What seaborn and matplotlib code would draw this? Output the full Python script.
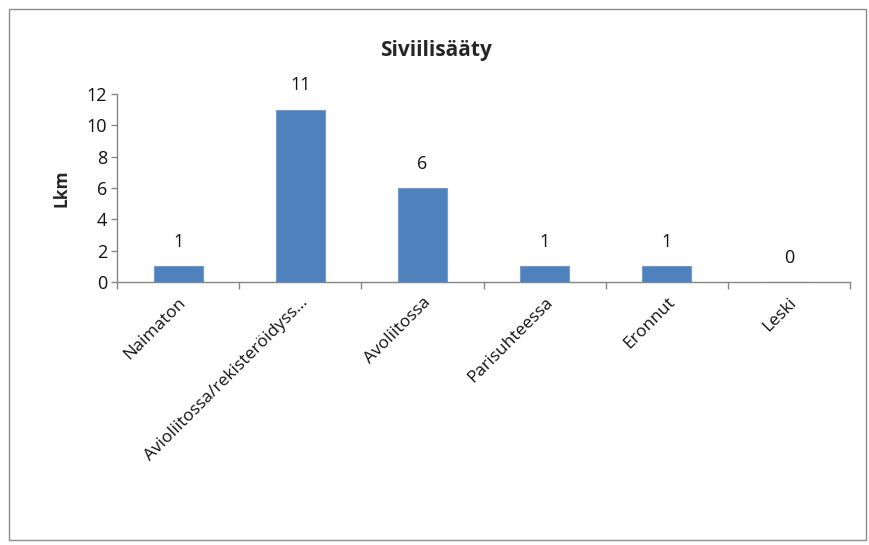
import matplotlib
matplotlib.use('Agg')
import matplotlib.pyplot as plt
import seaborn as sns
import pandas as pd
from matplotlib.patches import Rectangle

sns.set_theme(style='white')
plt.rcParams['font.family'] = ['Open Sans', 'DejaVu Sans']

categories = ['Naimaton', 'Avioliitossa/rekisteröidyss...', 'Avoliitossa',
              'Parisuhteessa', 'Eronnut', 'Leski']
counts = [1, 11, 6, 1, 1, 0]
yticks = [0, 2, 4, 6, 8, 10, 12]

df = pd.DataFrame({'tila': categories, 'lkm': counts})

fig = plt.figure(figsize=(8.7, 5.45), dpi=100)
ax = fig.add_axes([0.1345, 0.4826, 0.8425, 0.345])

sns.barplot(data=df, x='tila', y='lkm', ax=ax, color='#4F81BD', width=0.4,
            saturation=1, edgecolor='#6f9bd0', linewidth=0.8)

ax.set_xlim(-0.5, len(categories) - 0.5)
ax.set_ylim(0, 12)
ax.set_yticks(yticks)
ax.tick_params(axis='y', labelsize=13, length=4, width=1, color='#868686',
               left=True, pad=3, labelcolor='#111111')
ax.set_xticks([i - 0.5 for i in range(len(categories) + 1)], minor=True)
ax.set_xticks(range(len(categories)))
ax.set_xticklabels(categories, rotation=45, ha='right', rotation_mode='anchor',
                   fontsize=12.5, color='#111111')
ax.tick_params(axis='x', which='major', length=0, pad=9)
ax.tick_params(axis='x', which='minor', length=5, width=1, color='#868686',
               bottom=True)

for s in ['top', 'right']:
    ax.spines[s].set_visible(False)
for s in ['left', 'bottom']:
    ax.spines[s].set_color('#868686')
    ax.spines[s].set_linewidth(1)

ax.set_xlabel('')
ax.set_ylabel('Lkm', fontsize=12.5, fontweight='bold', labelpad=12)

for i, v in enumerate(counts):
    ax.annotate(str(v), (i, v), xytext=(0, 11), textcoords='offset points',
                ha='center', va='bottom', fontsize=13, color='#111111')

fig.text(0.501, 0.908, 'Siviilisääty', ha='center', va='center',
         fontsize=15, fontweight='bold')

fig.patches.append(Rectangle((0.0103, 0.009), 0.985, 0.975,
                             transform=fig.transFigure, fill=False,
                             edgecolor='#8c8c8c', linewidth=1))

fig.savefig('out.png', dpi=100)
